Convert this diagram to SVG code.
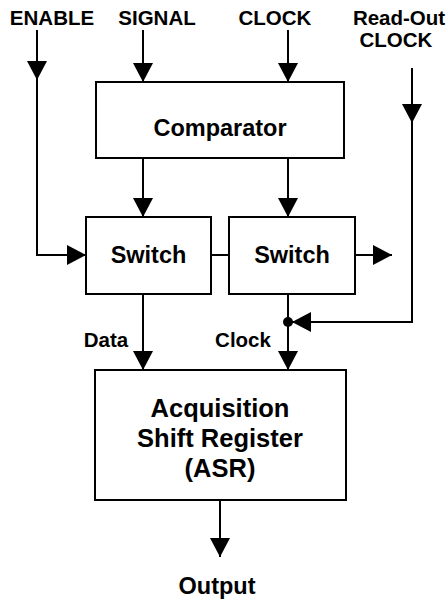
<svg xmlns="http://www.w3.org/2000/svg" width="448" height="603" viewBox="0 0 448 603">
<style>
.box{fill:#fff;stroke:#000;stroke-width:2}
.ln{fill:none;stroke:#000;stroke-width:2}
.arr{marker-end:url(#ah)}
text{font-family:"Liberation Sans",Arial,sans-serif;font-weight:bold;fill:#000;text-anchor:middle}
.lbl{font-size:20.5px}
.big{font-size:23.5px}
.asr{font-size:25.5px}
</style>
<defs>
<marker id="ah" viewBox="0 0 19 20" refX="19" refY="10" markerWidth="19" markerHeight="20" markerUnits="userSpaceOnUse" orient="auto">
<path d="M0,0 L19,10 L0,20 z" fill="#000"/>
</marker>
</defs>
<rect width="448" height="603" fill="#fff"/>
<g id="labels">
<text class="lbl" x="52" y="25">ENABLE</text>
<text class="lbl" x="157" y="25">SIGNAL</text>
<text class="lbl" x="275" y="25">CLOCK</text>
<text class="lbl" x="399" y="25">Read-Out</text>
<text class="lbl" x="396" y="47">CLOCK</text>
<text class="lbl" x="106" y="347">Data</text>
<text class="lbl" x="243" y="347">Clock</text>
<text class="big" x="217" y="594">Output</text>
</g>
<g id="connectors">
<line class="ln arr" x1="37" y1="30" x2="37" y2="80"/>
<path class="ln arr" d="M37,80 V255 H86"/>
<line class="ln arr" x1="143" y1="30" x2="143" y2="82"/>
<line class="ln arr" x1="288" y1="30" x2="288" y2="82"/>
<line class="ln arr" x1="412" y1="68" x2="412" y2="123"/>
<path class="ln arr" d="M412,123 V322 H292"/>
<line class="ln arr" x1="143" y1="158" x2="143" y2="217"/>
<line class="ln arr" x1="288" y1="158" x2="288" y2="217"/>
<line class="ln" x1="211" y1="255" x2="229" y2="255"/>
<line class="ln arr" x1="355" y1="255" x2="392" y2="255"/>
<line class="ln arr" x1="143" y1="294" x2="143" y2="370"/>
<line class="ln arr" x1="288" y1="294" x2="288" y2="370"/>
<circle cx="288" cy="322" r="5" fill="#000"/>
<line class="ln arr" x1="220" y1="500" x2="220" y2="557"/>
</g>
<g id="comparator">
<rect class="box" x="96" y="82" width="248" height="76"/>
<text class="big" x="220" y="136">Comparator</text>
</g>
<g id="switch1">
<rect class="box" x="86" y="217" width="125" height="77"/>
<text class="big" x="148.5" y="263">Switch</text>
</g>
<g id="switch2">
<rect class="box" x="229" y="217" width="126" height="77"/>
<text class="big" x="292" y="263">Switch</text>
</g>
<g id="asr">
<rect class="box" x="95" y="370" width="251" height="130"/>
<text class="asr" x="220" y="417">Acquisition</text>
<text class="asr" x="220" y="447">Shift Register</text>
<text class="asr" x="220" y="477">(ASR)</text>
</g>
</svg>
